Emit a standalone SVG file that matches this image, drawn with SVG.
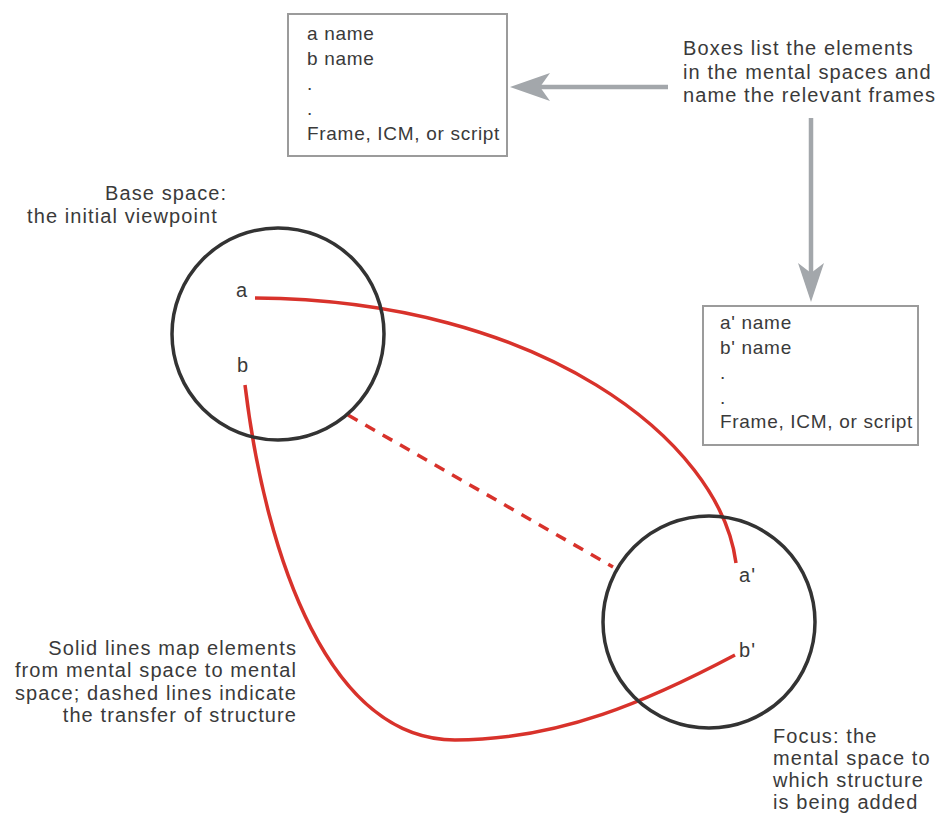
<svg xmlns="http://www.w3.org/2000/svg" width="941" height="814" viewBox="0 0 941 814">
<defs>
<style>
.t{font-family:"Liberation Sans",Arial,sans-serif;font-size:20px;fill:#3a3a3a;letter-spacing:1.1px}
.bt{font-family:"Liberation Sans",Arial,sans-serif;font-size:19px;fill:#3a3a3a;letter-spacing:0.7px}
.box{fill:#fff;stroke:#9b9b9b;stroke-width:2}
.space{fill:none;stroke:#333;stroke-width:3.5}
.map{fill:none;stroke:#d8322b;stroke-width:3.5;stroke-linecap:butt}
.dash{fill:none;stroke:#d8322b;stroke-width:3.5;stroke-dasharray:11 9}
.garrow{stroke:#a3a7ab;stroke-width:4.5;fill:none}
.ghead{fill:#a3a7ab}
</style>
</defs>
<rect width="941" height="814" fill="#fff"/>
<g id="connectors">
<path class="map" d="M255,298 C540,300 720,440 736,563"/>
<path class="map" d="M245,385 C266,560 330,740 455,740 C560,740 650,700 735,655"/>
<path class="dash" d="M348,415 L613,567"/>
<line class="garrow" x1="668" y1="87" x2="530" y2="87"/>
<polygon class="ghead" points="510,87 550,73 540,87 550,101"/>
<line class="garrow" x1="811" y1="118" x2="811" y2="280"/>
<polygon class="ghead" points="811,302 798,263 811,273 824,263"/>
</g>
<g id="box-base">
<rect class="box" x="288" y="14" width="219" height="142"/>
<text class="bt" x="307" y="40">a name</text>
<text class="bt" x="307" y="65">b name</text>
<text class="bt" x="307" y="90">.</text>
<text class="bt" x="307" y="115">.</text>
<text class="bt" x="307" y="140">Frame, ICM, or script</text>
</g>
<g id="box-focus">
<rect class="box" x="703" y="306" width="215" height="139"/>
<text class="bt" x="720" y="329">a' name</text>
<text class="bt" x="720" y="354">b' name</text>
<text class="bt" x="720" y="379">.</text>
<text class="bt" x="720" y="404">.</text>
<text class="bt" x="720" y="428">Frame, ICM, or script</text>
</g>
<g id="boxes-note">
<text class="t" x="683" y="55">Boxes list the elements</text>
<text class="t" x="683" y="79">in the mental spaces and</text>
<text class="t" x="683" y="102">name the relevant frames</text>
</g>
<g id="base-space">
<circle class="space" cx="278" cy="334" r="106"/>
<text class="t" x="236" y="297">a</text>
<text class="t" x="237" y="372">b</text>
</g>
<g id="base-label">
<text class="t" x="105" y="200">Base space:</text>
<text class="t" x="27" y="223">the initial viewpoint</text>
</g>
<g id="focus-space">
<circle class="space" cx="709" cy="622" r="106"/>
<text class="t" x="739" y="582">a'</text>
<text class="t" x="739" y="657">b'</text>
</g>
<g id="lines-note">
<text class="t" x="297" y="655" text-anchor="end">Solid lines map elements</text>
<text class="t" x="297" y="677" text-anchor="end">from mental space to mental</text>
<text class="t" x="297" y="700" text-anchor="end">space; dashed lines indicate</text>
<text class="t" x="297" y="722" text-anchor="end">the transfer of structure</text>
</g>
<g id="focus-label">
<text class="t" x="773" y="743">Focus: the</text>
<text class="t" x="773" y="765">mental space to</text>
<text class="t" x="773" y="787">which structure</text>
<text class="t" x="773" y="809">is being added</text>
</g>
</svg>
